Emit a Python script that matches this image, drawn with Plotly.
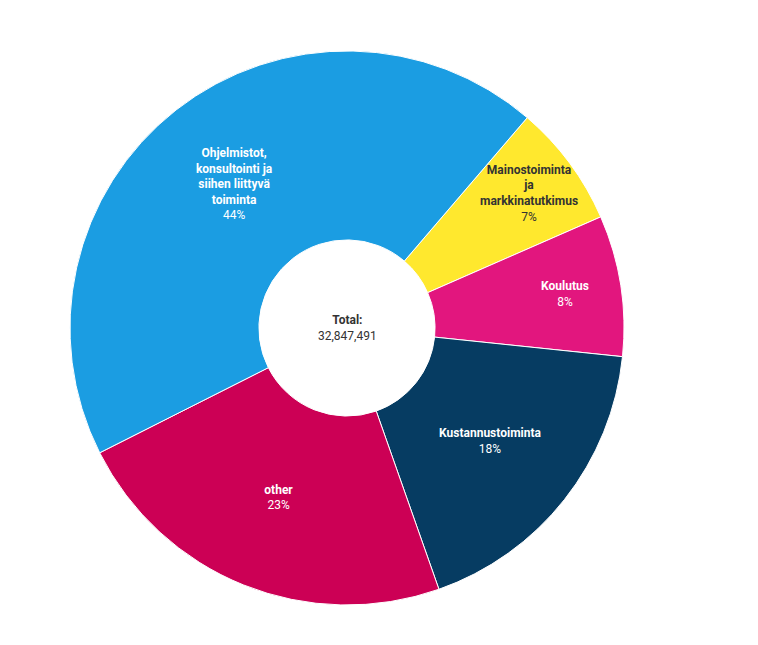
import plotly.graph_objects as go

labels = ["Mainostoiminta<br>ja<br>markkinatutkimus", "Koulutus", "Kustannustoiminta", "other",
          "Ohjelmistot,<br>konsultointi ja<br>siihen liittyvä<br>toiminta"]
values = [2350000, 2700000, 5900000, 7537491, 14360000]
colors = ["#FFE82E", "#E2167E", "#063C62", "#CC0055", "#1B9DE2"]
text_colors = ["#333333", "#FFFFFF", "#FFFFFF", "#FFFFFF", "#FFFFFF"]
total = sum(values)

fig = go.Figure(go.Pie(
    labels=labels,
    values=values,
    sort=False,
    direction="clockwise",
    rotation=40.6,
    hole=0.318,
    marker=dict(colors=colors, line=dict(color="#FFFFFF", width=1)),
    texttemplate="<b>%{label}</b><br>%{percent:.0%}",
    textposition="inside",
    insidetextorientation="horizontal",
    insidetextfont=dict(family="Roboto", size=12, color=text_colors),
    showlegend=False,
    domain=dict(x=[0.0923, 0.8232], y=[0.062, 0.921]),
))

fig.add_annotation(
    x=0.4578, y=0.4915, xref="paper", yref="paper",
    text="<b>Total:</b><br>" + f"{total:,}",
    showarrow=False, font=dict(family="Roboto", size=12, color="#333333"),
)

fig.update_layout(
    width=758, height=645,
    margin=dict(l=0, r=0, t=0, b=0),
    paper_bgcolor="#FFFFFF",
    plot_bgcolor="#FFFFFF",
    uniformtext=dict(minsize=12, mode="show"),
)

fig.write_html("out.html")
